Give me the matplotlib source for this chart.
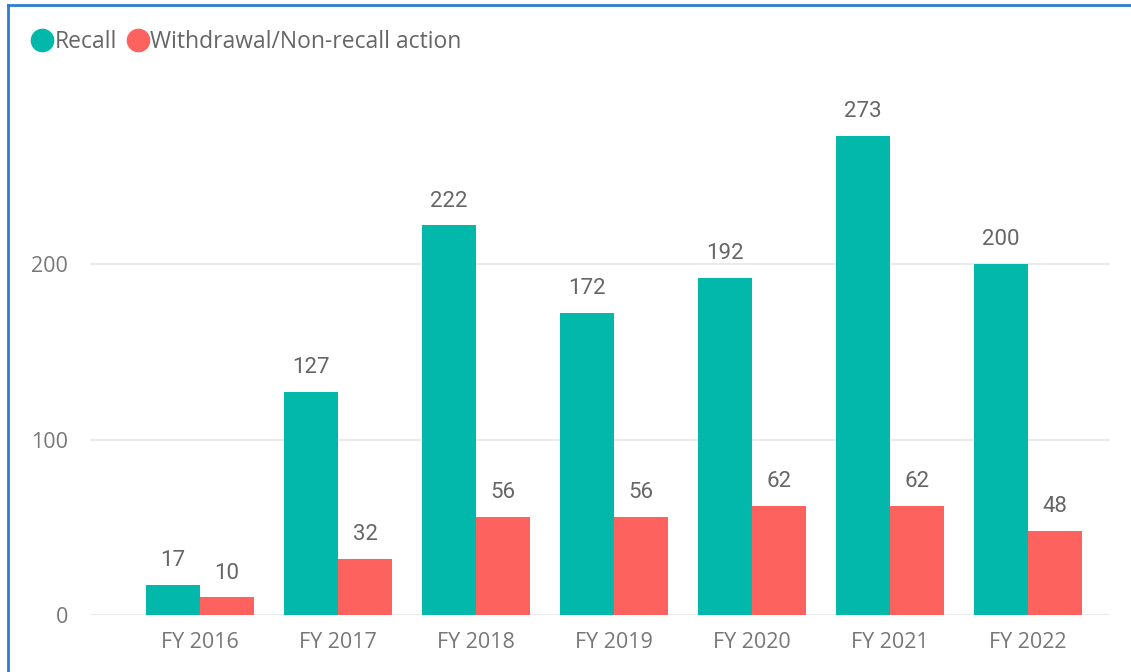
import matplotlib
matplotlib.use("Agg")
import matplotlib.pyplot as plt
from matplotlib.lines import Line2D
import numpy as np

categories = ["FY 2016", "FY 2017", "FY 2018", "FY 2019", "FY 2020", "FY 2021", "FY 2022"]
recall = [17, 127, 222, 172, 192, 273, 200]
withdrawal = [10, 32, 56, 56, 62, 62, 48]
series_names = ["Recall", "Withdrawal/Non-recall action"]
colors = ["#01B8AA", "#FD625E"]

plt.rcParams['font.family'] = ['Open Sans', 'DejaVu Sans']

W, H = 1131, 672
fig = plt.figure(figsize=(W/100, H/100), dpi=100)
fig.patch.set_facecolor("white")

# border (top and left visible)
fig.add_artist(Line2D([8/W, 8/W], [0, 1 - 5/H], transform=fig.transFigure, color="#2E7DD1", lw=2))
fig.add_artist(Line2D([8/W, 1], [1 - 5/H, 1 - 5/H], transform=fig.transFigure, color="#2E7DD1", lw=2))

ax_left, ax_right = 90, 1110
ax_bottom, ax_top = 615, 100
ax = fig.add_axes([ax_left/W, 1 - ax_bottom/H, (ax_right-ax_left)/W, (ax_bottom-ax_top)/H])

px_per_unit = 351/200
ax.set_ylim(0, (ax_bottom-ax_top)/px_per_unit)
step = 138
ax.set_xlim((ax_left-200)/step, (ax_right-200)/step)

x = np.arange(len(categories))
bw = 54/step
b1 = ax.bar(x - bw/2, recall, width=bw, color=colors[0], zorder=3)
b2 = ax.bar(x + bw/2, withdrawal, width=bw, color=colors[1], zorder=3)

for bars, vals in ((b1, recall), (b2, withdrawal)):
    for r, v in zip(bars, vals):
        ax.annotate(str(v), (r.get_x() + r.get_width()/2, v), xytext=(0, 10),
                    textcoords="offset points", ha="center", va="bottom",
                    fontsize=16, color="#666666", fontweight="normal",
                    family=["Roboto", "DejaVu Sans"])

ax.set_yticks([0, 100, 200])
ax.set_xticks(x)
ax.set_xticklabels(categories)
ax.tick_params(axis="both", length=0, labelsize=15.5, labelcolor="#777777")
ax.tick_params(axis="x", pad=12)
ax.tick_params(axis="y", pad=16)
ax.grid(axis="y", color="#E6E6E6", lw=1.2, zorder=0)
for s in ax.spines.values():
    s.set_visible(False)

handles = [Line2D([], [], marker="o", ls="none", markersize=16, color=c) for c in colors]
leg = fig.legend(handles, series_names, loc="upper left", bbox_to_anchor=(18/W, 1 - 19/H),
                 ncol=2, frameon=False, fontsize=16.5, handletextpad=0.0, columnspacing=0.35,
                 handlelength=1.1, borderpad=0)
for t in leg.get_texts():
    t.set_color("#666666")

fig.savefig("out.png", dpi=100, facecolor="white")
